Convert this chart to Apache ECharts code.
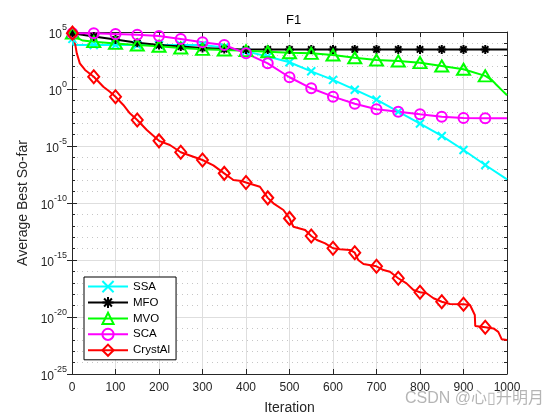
<!DOCTYPE html>
<html>
<head>
<meta charset="utf-8">
<script src="https://cdn.jsdelivr.net/npm/echarts@6/dist/echarts.min.js"></script>
<style>html,body{margin:0;padding:0;background:#fff}#c{width:560px;height:420px}</style>
</head>
<body>
<div id="c"></div>
<script>
// ---------------- data ----------------
var seriesNames = ['SSA', 'MFO', 'MVO', 'SCA', 'CrystAl'];
var markerIters = [1, 50, 100, 150, 200, 250, 300, 350, 400, 450, 500, 550, 600, 650, 700, 750, 800, 850, 900, 950];
var xTicks = [0, 100, 200, 300, 400, 500, 600, 700, 800, 900, 1000];
var yTickExponents = [5, 0, -5, -10, -15, -20, -25];

var ssaIter = [1, 3, 50, 100, 150, 200, 250, 300, 350, 400, 450, 500, 550, 600, 650, 700, 750, 800, 850, 900, 950, 1000];
var ssaVal = [2.51e4, 7.24e3, 7.24e3, 7.24e3, 7.24e3, 7.24e3, 7.24e3, 7.08e3, 4.47e3, 2.0e3, 7.08e2, 2.24e2, 3.55e1, 6.31, 8.71e-1, 1.17e-1, 1.02e-2, 9.33e-4, 7.59e-5, 4.47e-6, 2.14e-7, 1.2e-8];

var mfoIter = [1, 50, 100, 150, 200, 250, 300, 350, 400, 450, 500, 550, 600, 650, 700, 750, 800, 850, 900, 950, 1000];
var mfoVal = [7.94e4, 3.98e4, 2.24e4, 1.12e4, 7.08e3, 5.25e3, 3.98e3, 3.16e3, 2.95e3, 2.95e3, 2.95e3, 2.95e3, 2.95e3, 2.95e3, 2.95e3, 2.95e3, 2.95e3, 2.95e3, 2.95e3, 2.95e3, 2.95e3];

var mvoIter = [1, 10, 25, 50, 100, 150, 200, 250, 300, 350, 400, 450, 500, 550, 600, 650, 700, 750, 800, 850, 900, 950, 965, 975, 988, 1000];
var mvoVal = [7.94e4, 3.16e4, 1.78e4, 1.41e4, 1.0e4, 7.24e3, 5.62e3, 3.98e3, 3.02e3, 2.63e3, 2.29e3, 1.86e3, 1.51e3, 1.35e3, 9.55e2, 5.5e2, 3.47e2, 2.88e2, 2.04e2, 1.05e2, 5.37e1, 1.41e1, 6.31, 2.51, 7.94e-1, 2.82e-1];

var scaIter = [1, 50, 100, 150, 200, 250, 300, 350, 400, 450, 500, 550, 600, 650, 700, 750, 800, 850, 900, 950, 1000];
var scaVal = [7.76e4, 7.76e4, 6.61e4, 5.75e4, 4.47e4, 2.4e4, 1.26e4, 7.24e3, 1.35e3, 1.78e2, 1.07e1, 1.15, 2.14e-1, 5.01e-2, 1.66e-2, 1.02e-2, 6.03e-3, 3.72e-3, 2.82e-3, 2.69e-3, 2.69e-3];

var crystIter = [1, 7, 11, 18, 30, 50, 72, 87, 100, 118, 133, 150, 172, 200, 225, 250, 279, 300, 325, 350, 371, 390, 400, 432, 450, 463, 486, 500, 509, 536, 550, 563, 582, 600, 616, 639, 650, 658, 670, 700, 716, 731, 750, 769, 785, 800, 815, 831, 850, 869, 900, 915, 926, 927, 950, 969, 980, 988, 1000];
var crystVal = [7.94e4, 1.0e4, 1.35e3, 1.78e2, 4.68e1, 1.2e1, 1.58, 5.75e-1, 2.09e-1, 3.98e-2, 7.41e-3, 1.91e-3, 2.51e-4, 2.82e-5, 1.23e-5, 2.82e-6, 1.15e-6, 5.89e-7, 2.0e-7, 3.98e-8, 1.05e-8, 8.51e-9, 6.31e-9, 2.69e-9, 2.82e-10, 9.33e-11, 2.45e-11, 4.47e-12, 8.32e-13, 4.27e-13, 1.26e-13, 5.62e-14, 2.88e-14, 1.07e-14, 8.71e-15, 7.59e-15, 4.37e-15, 1.0e-15, 4.47e-16, 2.82e-16, 1.32e-16, 9.33e-17, 2.51e-17, 8.91e-18, 2.34e-18, 1.48e-18, 1.2e-18, 4.37e-19, 2.19e-19, 1.38e-19, 1.32e-19, 1.12e-19, 1.51e-20, 1.62e-21, 1.26e-21, 1.0e-21, 5.01e-22, 1.1e-22, 9.55e-23];

// ---------------- styling ----------------
var FONT = "'Liberation Sans', Arial, Helvetica, sans-serif";
var AX = '#262626';
var SYM_X = 'path://M0,0L10,10M10,0L0,10';
var SYM_STAR = 'path://M5,0L5,10M0,5L10,5M1.5,1.5L8.5,8.5M8.5,1.5L1.5,8.5';

// y axis is drawn in decades (log10 of the value), labelled as powers of ten
function toDecade(v) { return Math.log(v) / Math.LN10; }

function mk(name, iters, vals, color, symbol, size) {
  return {
    name: name,
    type: 'line',
    symbol: symbol,
    symbolSize: size,
    showAllSymbol: true,
    data: iters.map(function (x, i) {
      return { value: [x, toDecade(vals[i])], symbol: markerIters.indexOf(x) >= 0 ? symbol : 'none' };
    }),
    lineStyle: { color: color, width: 2 },
    itemStyle: { color: 'rgba(0,0,0,0)', borderColor: color, borderWidth: 2 },
    emphasis: { disabled: true },
    xAxisIndex: 0,
    yAxisIndex: 0
  };
}

function decAxis(extra) {
  var base = { type: 'value', min: -25, max: 5 };
  for (var k in extra) base[k] = extra[k];
  return base;
}

var chart = echarts.init(document.getElementById('c'), null, { renderer: 'canvas' });
chart.setOption({
  animation: false,
  backgroundColor: '#fff',
  textStyle: { fontFamily: FONT },
  title: {
    text: 'F1', left: 281, top: 9,
    textStyle: { fontSize: 13, fontWeight: 'normal', color: '#000', fontFamily: FONT }
  },
  grid: { left: 72, right: 53, top: 32, bottom: 46, containLabel: false },
  legend: {
    orient: 'vertical', left: 84, top: 277,
    itemWidth: 40, itemHeight: 14, itemGap: 2.7,
    padding: [3, 6, 3, 3],
    backgroundColor: '#fff', borderColor: '#000', borderWidth: 1,
    textStyle: { fontSize: 11.5, color: '#000', fontFamily: FONT },
    data: seriesNames
  },
  xAxis: [
    {
      type: 'value', min: 0, max: 1000, interval: 100, position: 'bottom',
      name: 'Iteration', nameLocation: 'middle', nameGap: 27,
      nameTextStyle: { fontSize: 14, color: AX, fontFamily: FONT },
      axisLine: { show: true, onZero: false, lineStyle: { color: AX, width: 1 } },
      axisTick: { show: true, inside: true, length: 5, lineStyle: { color: AX } },
      axisLabel: { color: AX, fontSize: 12, margin: 8, showMinLabel: true, showMaxLabel: true, fontFamily: FONT,
        formatter: function (v) { return xTicks.indexOf(v) >= 0 ? String(v) : ''; } },
      splitLine: { show: true, lineStyle: { color: '#dedede', width: 1 } }
    },
    {
      type: 'value', min: 0, max: 1000, interval: 100, position: 'top',
      axisLine: { show: true, onZero: false, lineStyle: { color: AX, width: 1 } },
      axisTick: { show: true, inside: true, length: 5, lineStyle: { color: AX } },
      axisLabel: { show: false }, splitLine: { show: false }
    }
  ],
  yAxis: [
    decAxis({
      position: 'left', interval: 1,
      axisLine: { show: true, onZero: false, lineStyle: { color: AX, width: 1 } },
      axisTick: { show: true, inside: true, length: 3, lineStyle: { color: AX } },
      axisLabel: { show: false },
      splitLine: { show: true, lineStyle: { color: '#c6c6c6', width: 1, type: [1, 4] } }
    }),
    decAxis({
      position: 'left', interval: 5,
      name: 'Average Best So-far', nameLocation: 'middle', nameGap: 42,
      nameTextStyle: { fontSize: 14, color: AX, fontFamily: FONT },
      axisLine: { show: true, onZero: false, lineStyle: { color: AX, width: 1 } },
      axisTick: { show: true, inside: true, length: 5, lineStyle: { color: AX } },
      splitLine: { show: true, lineStyle: { color: '#dedede', width: 1 } },
      axisLabel: {
        margin: 5, color: AX, fontFamily: FONT, showMinLabel: true, showMaxLabel: true,
        formatter: function (v) {
          var e = Math.round(v);
          if (yTickExponents.indexOf(e) < 0) return '';
          return '{b|10}{s|' + e + '}';
        },
        rich: {
          b: { fontSize: 12, lineHeight: 18, verticalAlign: 'bottom', color: AX, fontFamily: FONT },
          s: { fontSize: 9, lineHeight: 9, verticalAlign: 'top', color: AX, fontFamily: FONT }
        }
      }
    }),
    decAxis({
      position: 'right', interval: 1,
      axisLine: { show: true, onZero: false, lineStyle: { color: AX, width: 1 } },
      axisTick: { show: true, inside: true, length: 3, lineStyle: { color: AX } },
      axisLabel: { show: false }, splitLine: { show: false }
    }),
    decAxis({
      position: 'right', interval: 5,
      axisLine: { show: false },
      axisTick: { show: true, inside: true, length: 5, lineStyle: { color: AX } },
      axisLabel: { show: false }, splitLine: { show: false }
    })
  ],
  graphic: [
    {
      type: 'text', left: 405, top: 391, silent: true,
      style: { text: 'CSDN @心\u25AF升明月', fontSize: 16, fill: 'rgba(150,150,150,0.7)', fontFamily: "'Liberation Sans', 'Noto Sans CJK SC', sans-serif" }
    }
  ],
  series: [
    mk(seriesNames[0], ssaIter, ssaVal, '#00FFFF', SYM_X, 8),
    mk(seriesNames[1], mfoIter, mfoVal, '#000000', SYM_STAR, 9),
    mk(seriesNames[2], mvoIter, mvoVal, '#00FF00', 'triangle', [13, 11]),
    mk(seriesNames[3], scaIter, scaVal, '#FF00FF', 'circle', 10),
    mk(seriesNames[4], crystIter, crystVal, '#FF0000', 'diamond', [11, 13])
  ]
});
</script>
</body>
</html>
